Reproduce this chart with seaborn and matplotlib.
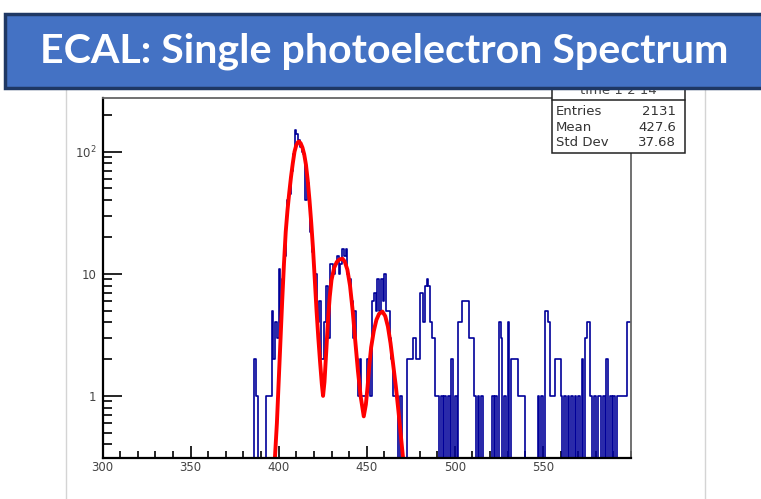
import numpy as np
import pandas as pd
import matplotlib
matplotlib.use("Agg")
import matplotlib.pyplot as plt
import seaborn as sns
from matplotlib.patches import Rectangle
from matplotlib.lines import Line2D
from matplotlib.ticker import FixedLocator, FixedFormatter, MultipleLocator, LogLocator, NullFormatter

# ---------------- data ----------------
title_text = "ECAL: Single photoelectron Spectrum"
hist_name = "time 1 2 14"
stats_labels = ["Entries", "Mean", "Std Dev"]
stats_values = ["2131", "427.6", "37.68"]

x_range = [300, 600]
y_range = [0.31, 275]
x_tick_values = [300, 350, 400, 450, 500, 550]
x_tick_labels = ["300", "350", "400", "450", "500", "550"]
y_tick_values = [1, 10, 100]
y_tick_labels = ["1", "10", r"$\mathregular{10^{2}}$"]

# histogram: unit-width bins, first listed bin starts at 380 (all earlier bins empty)
bin_start = 380
counts = [
    0, 0, 0, 0, 0, 0, 2, 1, 0, 0,          # 380-389
    0, 0, 0, 1, 1, 1, 5, 2, 4, 3,          # 390-399
    11, 4, 9, 14, 28, 40, 45, 70, 95, 150,  # 400-409
    140, 125, 110, 100, 95, 40, 55, 42, 22, 15,  # 410-419
    10, 10, 4, 6, 2, 2, 4, 8, 3, 12,       # 420-429
    12, 10, 12, 14, 10, 12, 16, 14, 16, 10,  # 430-439
    9, 6, 3, 5, 2, 1, 2, 1, 1, 1,          # 440-449
    2, 2, 1, 6, 7, 5, 9, 5, 9, 6,          # 450-459
    10, 5, 5, 3, 2, 1, 1, 1, 0, 1,         # 460-469
    0, 0, 0, 2, 2, 2, 3, 3, 2, 2,          # 470-479
    7, 7, 4, 8, 9, 8, 4, 3, 3, 1,          # 480-489
    1, 0, 1, 0, 1, 0, 1, 0, 2, 0,          # 490-499
    1, 0, 4, 4, 6, 6, 6, 6, 3, 3,          # 500-509
    3, 1, 0, 1, 0, 1, 0, 0, 0, 0,          # 510-519
    0, 1, 0, 1, 0, 4, 3, 0, 1, 0,          # 520-529
    4, 0, 2, 2, 2, 2, 1, 1, 1, 1,          # 530-539
    0, 0, 0, 0, 0, 0, 0, 1, 0, 1,          # 540-549
    0, 5, 5, 4, 1, 1, 1, 2, 2, 2,          # 550-559
    1, 0, 1, 0, 1, 0, 1, 0, 1, 0,          # 560-569
    1, 0, 2, 0, 3, 4, 4, 1, 0, 1,          # 570-579
    0, 1, 1, 0, 1, 0, 2, 0, 1, 0,          # 580-589
    1, 0, 1, 1, 1, 1, 1, 1, 4, 4,          # 590-599
]

# red fit curve
fit_x = [397.5, 399.0, 400.0, 401.0, 402.0, 403.0, 404.0, 405.0, 406.0, 407.0,
         408.0, 409.0, 410.0, 411.0, 411.6, 412.5, 413.5, 414.5, 415.5, 416.5,
         417.5, 418.5, 419.5, 420.5, 421.5, 422.5, 423.5, 424.5, 425.2, 426.0,
         427.0, 428.0, 429.0, 430.0, 431.5, 433.0, 434.5, 436.2, 437.5, 439.0,
         440.5, 442.0, 443.5, 445.0, 446.5, 448.3, 449.5, 450.5, 451.5, 452.5,
         454.0, 455.5, 457.0, 458.9, 460.5, 462.0, 463.5, 465.0, 466.5, 468.0,
         469.5, 470.6, 471.5]
fit_y = [0.25, 0.6, 1.3, 2.8, 6.0, 12.0, 22.0, 33.0, 46.0, 62.0,
         80.0, 100.0, 113.0, 120.0, 121.0, 117.0, 108.0, 95.0, 78.0, 58.0,
         40.0, 26.0, 16.0, 9.0, 5.0, 3.0, 1.9, 1.25, 1.0, 1.3,
         2.3, 4.2, 6.5, 8.9, 11.2, 12.5, 13.1, 13.3, 12.6, 10.8,
         8.0, 5.0, 2.8, 1.6, 1.0, 0.68, 0.85, 1.2, 1.8, 2.5,
         3.4, 4.2, 4.7, 4.9, 4.5, 3.7, 2.7, 1.8, 1.2, 0.75,
         0.45, 0.31, 0.22]

# ---------------- figure ----------------
W, H = 761, 499
sns.set_style("ticks")
plt.rcParams["font.family"] = ["DejaVu Sans"]
fig = plt.figure(figsize=(W / 100, H / 100), dpi=100)
fig.patch.set_facecolor("white")


def fx(x):
    return x / W


def fy(y):
    return 1 - y / H


ax_left, ax_right, ax_top, ax_bottom = 102.5, 631, 98, 458
ax = fig.add_axes([fx(ax_left), fy(ax_bottom), fx(ax_right - ax_left), (ax_bottom - ax_top) / H])
ax.set_facecolor("white")

hist_df = pd.DataFrame({
    "center": np.arange(bin_start, bin_start + len(counts)) + 0.5,
    "count": counts,
})
sns.histplot(data=hist_df, x="center", weights="count", binwidth=1, binrange=tuple(x_range),
             element="step", fill=False, color="#000099", linewidth=1.2, ax=ax)

fit_df = pd.DataFrame({"x": fit_x, "y": fit_y})
sns.lineplot(data=fit_df, x="x", y="y", sort=False, estimator=None,
             color="#FF0000", linewidth=2.8, ax=ax)

ax.set_yscale("log")
ax.set_xlim(*x_range)
ax.set_ylim(*y_range)
ax.set_xlabel("")
ax.set_ylabel("")
ax.grid(False)

ax.xaxis.set_major_locator(FixedLocator(x_tick_values))
ax.xaxis.set_major_formatter(FixedFormatter(x_tick_labels))
ax.xaxis.set_minor_locator(MultipleLocator(10))
ax.yaxis.set_major_locator(FixedLocator(y_tick_values))
ax.yaxis.set_major_formatter(FixedFormatter(y_tick_labels))
ax.yaxis.set_minor_locator(LogLocator(base=10, subs=np.arange(2, 10)))
ax.yaxis.set_minor_formatter(NullFormatter())

ax.tick_params(axis="x", which="both", bottom=True, top=False)
ax.tick_params(axis="y", which="both", left=True, right=False)
ax.tick_params(axis="x", which="major", direction="in", length=9, width=1.2,
               color="black", labelsize=8.5, labelcolor="#444444", pad=2.5)
ax.tick_params(axis="x", which="minor", direction="in", length=5, width=1.2, color="black")
ax.tick_params(axis="y", which="major", direction="in", length=13.5, width=1.2,
               color="black", labelsize=8.5, labelcolor="#444444", pad=4.5)
ax.tick_params(axis="y", which="minor", direction="in", length=6.5, width=1.2, color="black")

for s in ["left", "bottom"]:
    ax.spines[s].set_visible(True)
    ax.spines[s].set_color("black")
    ax.spines[s].set_linewidth(1.6)
for s in ["top", "right"]:
    ax.spines[s].set_visible(True)
    ax.spines[s].set_color("#666666")
    ax.spines[s].set_linewidth(1.3)

# canvas pad edges
for xp in (66, 705):
    fig.add_artist(Line2D([fx(xp), fx(xp)], [fy(88), fy(499)], transform=fig.transFigure,
                          color="#d4d4d4", linewidth=1.0, zorder=1))

# stats box
bx0, bx1, by0, by1 = 552, 685, 78, 153
fig.add_artist(Rectangle((fx(bx0), fy(by1)), fx(bx1 - bx0), (by1 - by0) / H,
                         transform=fig.transFigure, facecolor="white",
                         edgecolor="#222222", linewidth=1.1, zorder=5))
fig.add_artist(Line2D([fx(bx0), fx(bx1)], [fy(100), fy(100)], transform=fig.transFigure,
                      color="#222222", linewidth=1.1, zorder=6))
fig.text(fx((bx0 + bx1) / 2), fy(90), hist_name, ha="center", va="center",
         fontsize=9.5, color="#444444", zorder=6)
for i, (lab, val) in enumerate(zip(stats_labels, stats_values)):
    yy = 111.7 + 15.5 * i
    fig.text(fx(bx0 + 4), fy(yy), lab, ha="left", va="center", fontsize=9.5,
             color="#333333", zorder=6)
    fig.text(fx(bx1 - 9), fy(yy), val, ha="right", va="center", fontsize=9.5,
             color="#333333", zorder=6)

# title banner
fig.add_artist(Rectangle((fx(5), fy(88)), fx(770 - 5), (88 - 14) / H,
                         transform=fig.transFigure, facecolor="#4472C4",
                         edgecolor="#1F3864", linewidth=2.5, zorder=10))
t = fig.text(fx(40), fy(51), title_text, ha="left", va="center", color="white",
             fontsize=26, fontweight="bold", family=["Lato", "DejaVu Sans"], zorder=11)
fig.canvas.draw()
bb = t.get_window_extent()
t.set_fontsize(26 * 688 / bb.width)

fig.savefig("out.png", dpi=100, facecolor="white")
